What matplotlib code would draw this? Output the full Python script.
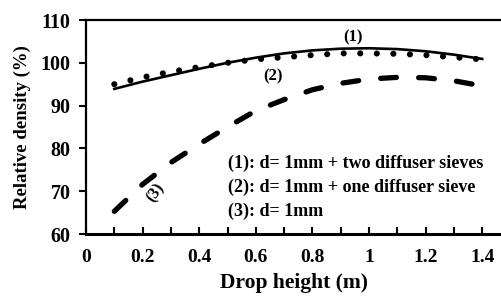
import matplotlib
matplotlib.use('Agg')
import matplotlib.pyplot as plt
import numpy as np
from matplotlib.ticker import MultipleLocator

# drop height (m) and relative density (%)
height = [0.1, 0.2, 0.3, 0.4, 0.5, 0.6, 0.7, 0.8, 0.9, 1.0, 1.1, 1.2, 1.3, 1.4]
dens1 = [93.9, 95.6, 97.1, 98.6, 100.0, 101.2, 102.2, 102.9, 103.3, 103.4, 103.2, 102.7, 101.9, 100.9]
dens2 = [95.0, 96.6, 97.9, 99.0, 100.0, 100.8, 101.3, 101.8, 102.2, 102.2, 102.1, 101.8, 101.3, 100.8]
dens3 = [65.3, 71.6, 76.7, 81.0, 85.0, 88.8, 91.4, 93.7, 95.2, 96.2, 96.6, 96.5, 95.8, 94.6]

legend_lines = ['(1): d= 1mm + two diffuser sieves',
                '(2): d= 1mm + one diffuser sieve',
                '(3): d= 1mm']

plt.rcParams['font.family'] = ['Liberation Serif', 'DejaVu Serif']
plt.rcParams['font.weight'] = 'bold'

fig = plt.figure(figsize=(5.01, 2.96), dpi=100)
ax = fig.add_axes([86/501., 1 - 234/296., 1 - 86/501., (234 - 20)/296.])

ax.plot(height, dens1, '-', color='black', lw=1.9)
ax.plot(height, dens2, color='black', lw=4.4, dashes=(0.01, 2.7),
        dash_capstyle='round')
ax.plot(height, dens3, color='black', lw=3.8, dashes=(3.0, 4.2),
        dash_capstyle='round')

ax.set_xlim(0, 415/283.)
ax.set_ylim(60, 110)
ax.xaxis.set_minor_locator(MultipleLocator(0.1))
ax.yaxis.set_major_locator(MultipleLocator(10))
ax.set_xticks([0, 0.2, 0.4, 0.6, 0.8, 1.0, 1.2, 1.4])
ax.set_xticklabels(['0', '0.2', '0.4', '0.6', '0.8', '1', '1.2', '1.4'])
for lab in ax.get_xticklabels() + ax.get_yticklabels():
    lab.set_fontweight('bold')

ax.tick_params(axis='x', which='both', direction='in', length=5, width=1.5,
               labelsize=14, pad=11)
ax.tick_params(axis='y', direction='out', length=5, width=1.5, labelsize=14.5, pad=6)

ax.spines['right'].set_visible(False)
ax.spines['bottom'].set_linewidth(2.2)
ax.spines['left'].set_linewidth(1.6)
ax.spines['top'].set_linewidth(1.6)

ax.set_xlabel('Drop height (m)', fontsize=15.5, fontweight='bold', labelpad=5)
ax.set_ylabel('Relative density (%)', fontsize=13.5, fontweight='bold', labelpad=7)

ax.text(0.943, 106.0, '(1)', fontsize=12, ha='center', va='center')
ax.text(0.66, 96.9, '(2)', fontsize=12, ha='center', va='center')
ax.text(0.245, 69.6, '(3)', fontsize=12, ha='center', va='center', rotation=55)

for i, s in enumerate(legend_lines):
    ax.text(0.5, 76.6 - i*5.7, s, fontsize=13, ha='left', va='center')

fig.savefig('out.png', dpi=100)
